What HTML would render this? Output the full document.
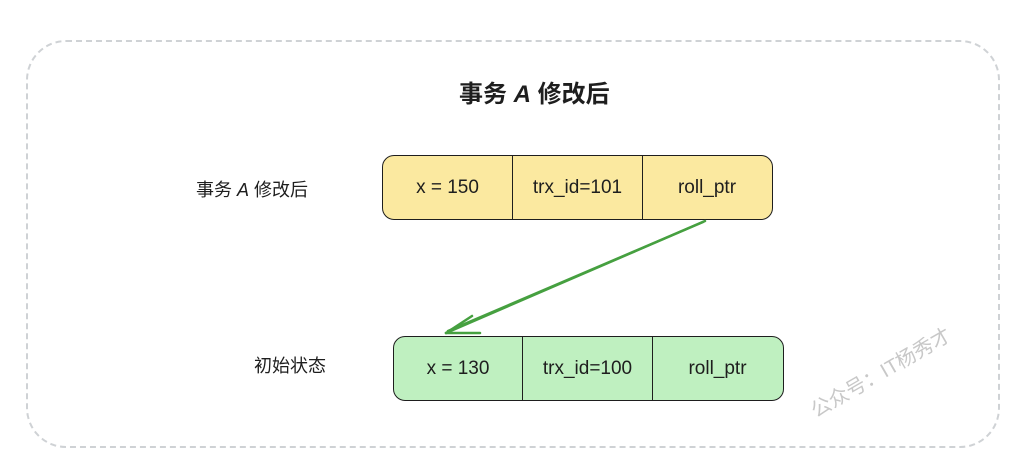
<!DOCTYPE html>
<html><head><meta charset="utf-8"><style>
body{margin:0;width:1024px;height:466px;background:#fff;overflow:hidden;position:relative;font-family:"Liberation Sans","Noto Sans CJK SC",sans-serif;}
.outer{position:absolute;left:26px;top:40px;width:974px;height:408px;border:2px dashed #cfd2d5;border-radius:40px;box-sizing:border-box;}
.t{position:absolute;color:#1e1e1e;white-space:nowrap;}
.row{position:absolute;height:65px;border:1.5px solid #1e1e1e;border-radius:12px;box-sizing:border-box;display:flex;}
.row div{flex:0 0 auto;display:flex;align-items:center;justify-content:center;font-size:19px;color:#1e1e1e;border-right:1.5px solid #1e1e1e;box-sizing:border-box;height:100%;}
.row div:last-child{border-right:none;}
</style></head><body>
<div class="outer"></div>
<div class="t" style="left:459px;top:74px;font-size:24px;font-weight:600;">事务 <i>A</i> 修改后</div>
<div class="t" style="left:196px;top:176px;font-size:18px;">事务 <i>A</i> 修改后</div>
<div class="t" style="left:254px;top:352px;font-size:18px;">初始状态</div>
<div class="row" style="left:382px;top:155px;width:391px;background:#fbe9a0;">
<div style="width:130px">x = 150</div><div style="width:130px">trx_id=101</div><div style="width:128px">roll_ptr</div></div>
<div class="row" style="left:393px;top:336px;width:391px;background:#bff0c0;">
<div style="width:129px">x = 130</div><div style="width:130px">trx_id=100</div><div style="width:129px">roll_ptr</div></div>
<svg width="1024" height="466" style="position:absolute;left:0;top:0">
<g stroke="#46a040" stroke-width="2.5" fill="none" stroke-linecap="round">
<path d="M705 221 L446 333"/><path d="M703 222 L448 331"/>
<path d="M446 333 L472 316"/><path d="M446 333 L480 333"/>
</g>
<text x="816" y="418" transform="rotate(-30 816 418)" font-size="20" fill="#c8c8c8" font-family="Liberation Sans,Noto Sans CJK SC,sans-serif">公众号：IT杨秀才</text>
</svg>
</body></html>
